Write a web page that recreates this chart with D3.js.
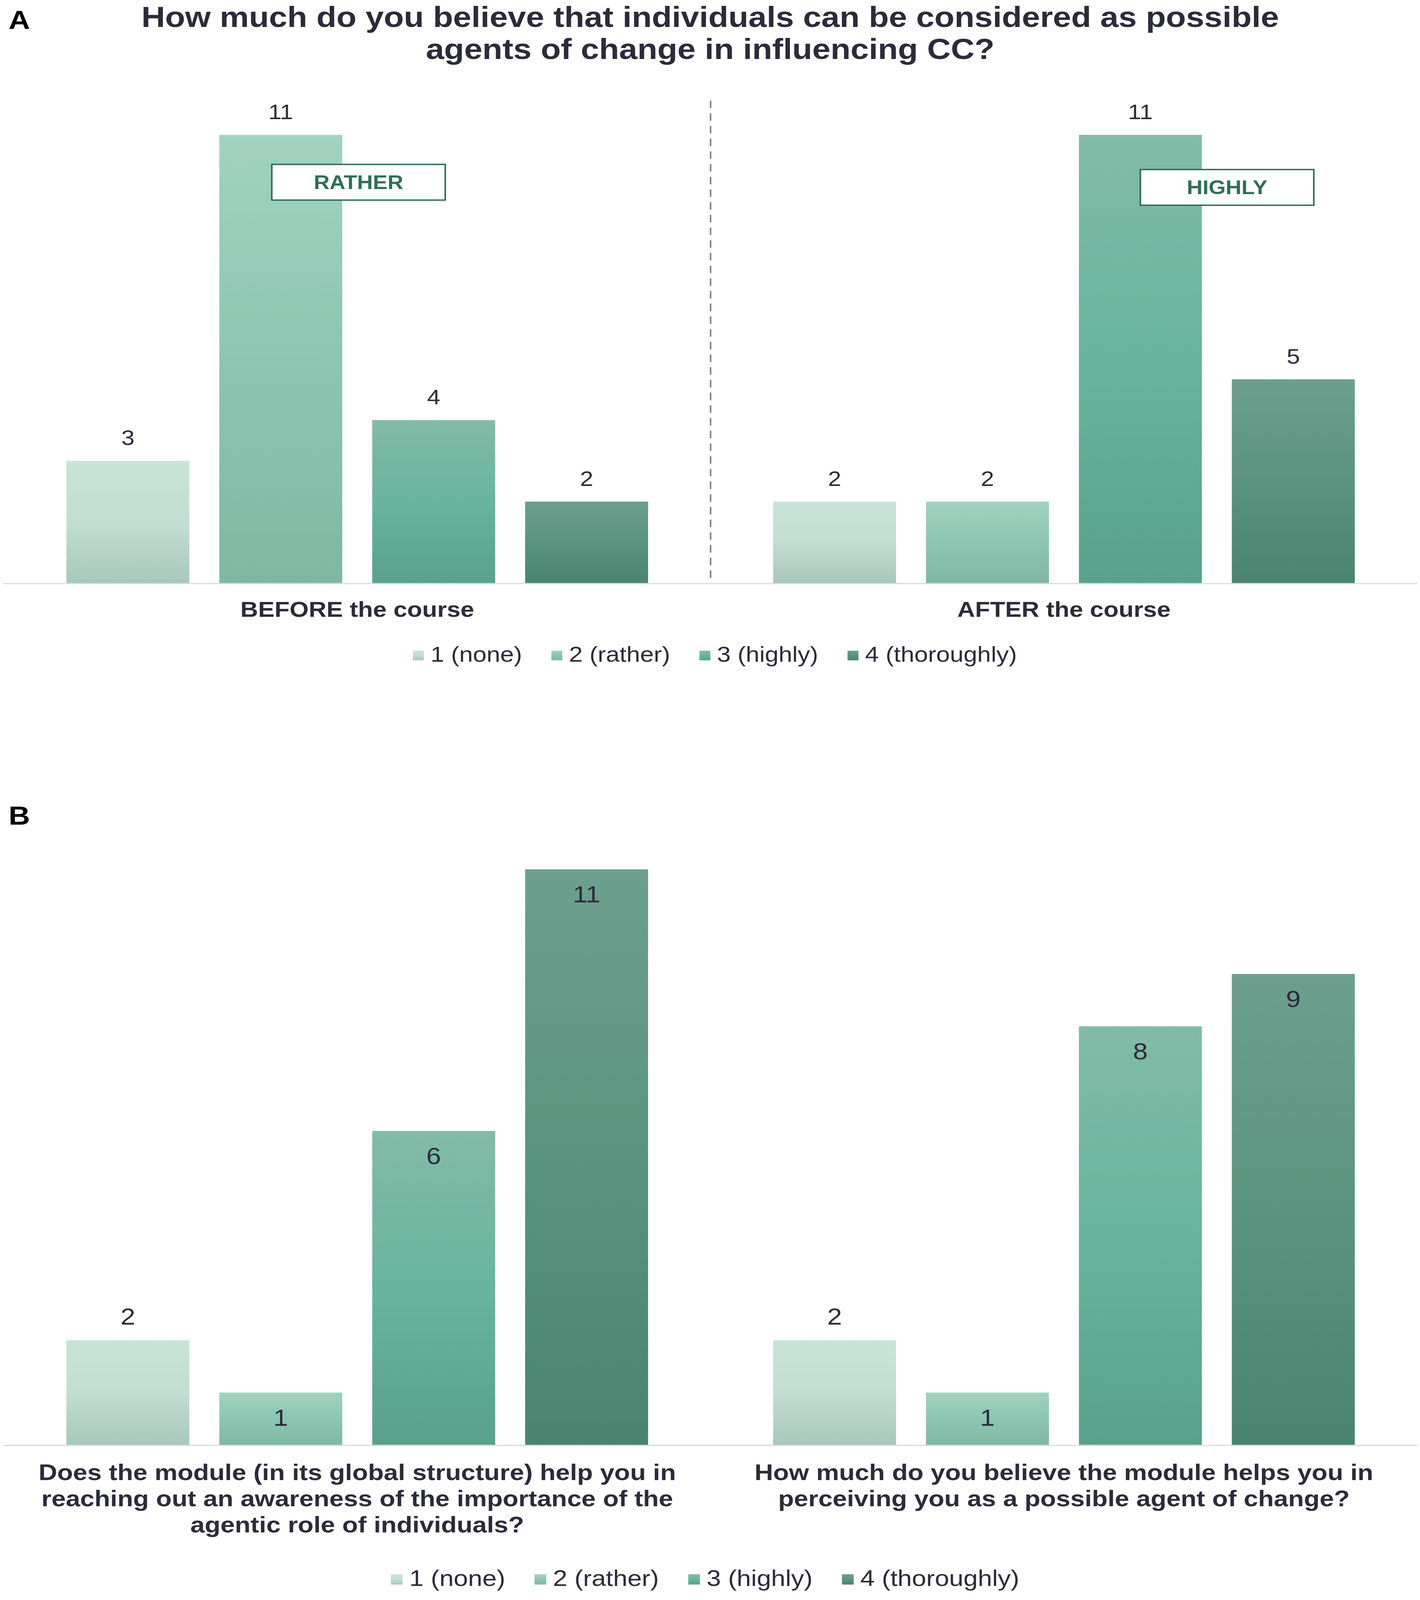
<!DOCTYPE html>
<html>
<head>
<meta charset="utf-8">
<script src="https://cdn.jsdelivr.net/npm/d3@7"></script>
<style>
  html, body { margin: 0; padding: 0; background: #ffffff; overflow: hidden; }
  svg { display: block; }
  text { font-family: "Liberation Sans", Arial, Helvetica, sans-serif; }
</style>
</head>
<body>
<script>
// ---------------- DATA ----------------
const seriesNames = ["1 (none)", "2 (rather)", "3 (highly)", "4 (thoroughly)"];

const panelACategories = ["BEFORE the course", "AFTER the course"];
const panelAValues = [
  [3, 11, 4, 2],   // BEFORE the course
  [2, 2, 11, 5]    // AFTER the course
];

const panelBCategories = [
  ["Does the module (in its global structure) help you in",
   "reaching out an awareness of the importance of the",
   "agentic role of individuals?"],
  ["How much do you believe the module helps you in",
   "perceiving you as a possible agent of change?"]
];
const panelBValues = [
  [2, 1, 6, 11],
  [2, 1, 8, 9]
];
// where data labels sit in panel B (inside the bar end or above it)
const panelBLabelInside = [
  [false, true, true, true],
  [false, true, true, true]
];

const titleLines = [
  "How much do you believe that individuals can be considered as possible",
  "agents of change in influencing CC?"
];

const annotations = [
  { text: "RATHER", cat: 0, series: 1 },
  { text: "HIGHLY", cat: 1, series: 2 }
];

// ---------------- STYLE ----------------
const W = 3635, H = 4662;
const TEXT = "#2b2b3a";
const gradStops = [
  ["#c9e3d9", "#c2ded3", "#a7c8ba"],
  ["#a2d2c0", "#8cc6b2", "#7fb7a3"],
  ["#82bba8", "#68b49c", "#59a18b"],
  ["#6d9f8e", "#5a937f", "#4a8470"]
];

// fit the full 3635x4662 drawing into whatever viewport the page gets
const vw = window.innerWidth || W;
const vh = window.innerHeight || H;

const svg = d3.select("body").append("svg")
  .attr("width", vw).attr("height", vh)
  .attr("viewBox", `0 0 ${W} ${H}`)
  .attr("preserveAspectRatio", "none");

svg.append("rect").attr("width", W).attr("height", H).attr("fill", "#ffffff");

const defs = svg.append("defs");
gradStops.forEach((stops, i) => {
  const g = defs.append("linearGradient")
    .attr("id", "grad" + i)
    .attr("x1", 0).attr("y1", 0).attr("x2", 0).attr("y2", 1);
  stops.forEach((c, j) => {
    g.append("stop").attr("offset", (j / (stops.length - 1) * 100) + "%").attr("stop-color", c);
  });
});

// panel letters
svg.append("text").attr("x", 22).attr("y", 84)
  .attr("font-size", 76).attr("font-weight", 700).attr("fill", "#000").text("A");
svg.append("text").attr("x", 22).attr("y", 2403)
  .attr("font-size", 76).attr("font-weight", 700).attr("fill", "#000").text("B");

// title
svg.append("g").selectAll("text").data(titleLines).join("text")
  .attr("x", 1818).attr("y", (d, i) => 78 + i * 94)
  .attr("text-anchor", "middle")
  .attr("font-size", 84).attr("font-weight", 700).attr("fill", TEXT)
  .text(d => d);

const xLeft = 10, xRight = 3628;

function drawPanel(opts) {
  const { values, baseline, top, labelFont, insideFlags, g } = opts;
  const x0 = d3.scaleBand().domain(d3.range(values.length)).range([xLeft, xRight]).padding(0);
  const bw = x0.bandwidth();
  const x1 = d3.scaleBand().domain(d3.range(seriesNames.length))
    .range([160, bw - 160]).paddingInner(0.196).paddingOuter(0);
  const y = d3.scaleLinear().domain([0, 11]).range([baseline, top]);

  const groups = g.selectAll("g.cat").data(values).join("g")
    .attr("class", "cat")
    .attr("transform", (d, i) => `translate(${x0(i)},0)`);

  groups.selectAll("rect").data(d => d).join("rect")
    .attr("x", (d, i) => x1(i))
    .attr("width", x1.bandwidth())
    .attr("y", d => y(d))
    .attr("height", d => baseline - y(d))
    .attr("fill", (d, i) => `url(#grad${i})`);

  groups.each(function (vals, ci) {
    d3.select(this).selectAll("text.val").data(vals).join("text")
      .attr("class", "val")
      .attr("x", (d, i) => x1(i) + x1.bandwidth() / 2)
      .attr("y", (d, i) => (insideFlags && insideFlags[ci][i])
        ? y(d) + labelFont * 1.42
        : y(d) - 46)
      .attr("text-anchor", "middle")
      .attr("font-size", labelFont).attr("fill", TEXT)
      .text(d => d);
  });

  // axis line
  g.append("line")
    .attr("x1", 8).attr("x2", xRight).attr("y1", baseline + 1.5).attr("y2", baseline + 1.5)
    .attr("stroke", "#dadade").attr("stroke-width", 3.5);

  return { x0, x1, y, bw };
}

function drawLegend(g, cx, cy, fontSize) {
  const items = g.selectAll("g.li").data(seriesNames).join("g").attr("class", "li");
  const sq = Math.round(fontSize * 0.45);
  items.append("rect")
    .attr("width", sq).attr("height", sq)
    .attr("y", cy - sq / 2 + 4)
    .attr("fill", (d, i) => `url(#grad${i})`);
  items.append("text")
    .attr("y", cy + fontSize * 0.35)
    .attr("font-size", fontSize).attr("fill", TEXT)
    .text(d => d);
  const gapMT = 17, gapItem = 75;
  const widths = [];
  items.each(function () {
    widths.push(d3.select(this).select("text").node().getComputedTextLength());
  });
  const total = d3.sum(widths) + seriesNames.length * (sq + gapMT) + (seriesNames.length - 1) * gapItem;
  let cur = cx - total / 2;
  items.each(function (d, i) {
    const it = d3.select(this);
    it.select("rect").attr("x", cur);
    it.select("text").attr("x", cur + sq + gapMT);
    cur += sq + gapMT + widths[i] + gapItem;
  });
}

// ---------------- PANEL A ----------------
const gA = svg.append("g");
const A = drawPanel({ values: panelAValues, baseline: 1699, top: 393, labelFont: 61, insideFlags: null, g: gA });

// dashed divider between the two groups
gA.append("line")
  .attr("x1", A.x0(1)).attr("x2", A.x0(1))
  .attr("y1", 293).attr("y2", 1699)
  .attr("stroke", "#7d8783").attr("stroke-width", 4)
  .attr("stroke-dasharray", "22 15");

// category labels
gA.selectAll("text.cat").data(panelACategories).join("text")
  .attr("class", "cat")
  .attr("x", (d, i) => A.x0(i) + A.bw / 2)
  .attr("y", 1797)
  .attr("text-anchor", "middle")
  .attr("font-size", 63).attr("font-weight", 700).attr("fill", TEXT)
  .text(d => d);

// annotation boxes, placed relative to the bar they describe
const annOffsets = [{ dx: 199, dy: 86 }, { dx: 222, dy: 101 }];
annotations.forEach((a, k) => {
  const v = panelAValues[a.cat][a.series];
  const cx = A.x0(a.cat) + A.x1(a.series) + A.x1.bandwidth() / 2 + annOffsets[k].dx;
  const ty = A.y(v) + annOffsets[k].dy;
  const bwid = 444, bh = 104;
  gA.append("rect")
    .attr("x", cx - bwid / 2).attr("y", ty)
    .attr("width", bwid).attr("height", bh)
    .attr("fill", "#ffffff").attr("stroke", "#2e6b58").attr("stroke-width", 4);
  gA.append("text")
    .attr("x", cx).attr("y", ty + bh / 2 + 20)
    .attr("text-anchor", "middle")
    .attr("font-size", 56).attr("font-weight", 700).attr("fill", "#2f6e5a")
    .text(a.text);
});

drawLegend(gA.append("g"), 1830, 1906, 63);

// ---------------- PANEL B ----------------
const gB = svg.append("g");
const B = drawPanel({ values: panelBValues, baseline: 4210, top: 2533, labelFont: 68, insideFlags: panelBLabelInside, g: gB });

panelBCategories.forEach((lines, i) => {
  gB.append("g").selectAll("text").data(lines).join("text")
    .attr("x", B.x0(i) + B.bw / 2)
    .attr("y", (d, j) => 4313 + j * 76)
    .attr("text-anchor", "middle")
    .attr("font-size", 66).attr("font-weight", 700).attr("fill", TEXT)
    .text(d => d);
});

drawLegend(gB.append("g"), 1805, 4598, 66);
</script>
</body>
</html>
